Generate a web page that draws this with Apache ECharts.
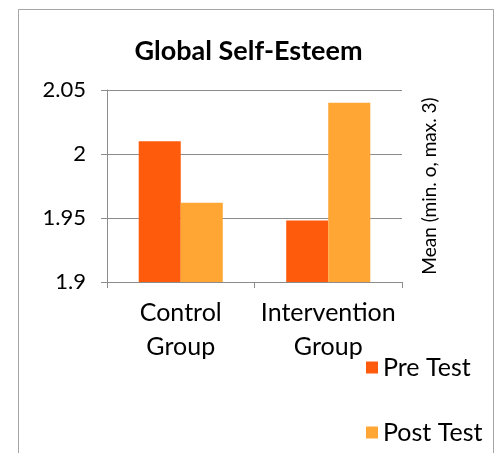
<!DOCTYPE html>
<html>
<head>
<meta charset="utf-8">
<script src="https://cdn.jsdelivr.net/npm/echarts@6/dist/echarts.min.js"></script>
<style>
  html, body { margin: 0; padding: 0; background: #fff; }
  #tuBiao { width: 497px; height: 453px; }
</style>
</head>
<body>
<div id="tuBiao"></div>
<script>
  // 数据
  const categories = ['Control\nGroup', 'Intervention\nGroup'];
  const preTest = [2.010, 1.948];
  const postTest = [1.962, 2.040];
  const yTicks = { min: 1.9, max: 2.05, step: 0.05 };

  const ziTi = 'Lato, "Open Sans", sans-serif';
  const huiSe = '#8c8c8c';

  const chart = echarts.init(document.getElementById('tuBiao'));

  const option = {
    animation: false,
    textStyle: { fontFamily: ziTi, color: '#000' },
    title: {
      text: 'Global Self-Esteem',
      left: 'center',
      top: 38,
      padding: 0,
      textStyle: { fontFamily: ziTi, fontSize: 27, fontWeight: 'bold', color: '#000' },
    },
    // 外框
    graphic: [
      {
        type: 'rect',
        shape: { x: 18.5, y: 9.5, width: 475, height: 460 },
        style: { fill: 'none', stroke: '#a6a6a6', lineWidth: 1 },
        silent: true,
      },
    ],
    legend: {
      orient: 'vertical',
      left: 366,
      top: 355,
      padding: 0,
      icon: 'rect',
      itemWidth: 12,
      itemHeight: 12,
      itemGap: 40,
      textStyle: { fontFamily: ziTi, fontSize: 25, lineHeight: 24, color: '#000' },
      data: ['Pre Test', 'Post Test'],
    },
    grid: { left: 107, right: 95, top: 90, bottom: 171, containLabel: false },
    xAxis: {
      type: 'category',
      data: categories,
      axisLine: { lineStyle: { color: huiSe } },
      axisTick: { show: true, length: 6, lineStyle: { color: huiSe } },
      axisLabel: {
        interval: 0,
        hideOverlap: false,
        fontFamily: ziTi,
        fontSize: 25,
        color: '#000',
        lineHeight: 34,
        margin: 14,
      },
    },
    yAxis: [
      {
        type: 'value',
        min: yTicks.min,
        max: yTicks.max,
        interval: yTicks.step,
        axisLine: { show: true, lineStyle: { color: huiSe } },
        axisTick: { show: true, length: 6, lineStyle: { color: huiSe } },
        splitLine: { lineStyle: { color: huiSe } },
        axisLabel: { fontFamily: ziTi, fontSize: 22, color: '#000', margin: 21 },
      },
      {
        type: 'value',
        position: 'right',
        min: yTicks.min,
        max: yTicks.max,
        interval: yTicks.step,
        name: 'Mean (min. o, max. 3)',
        nameLocation: 'middle',
        nameGap: 18,
        nameTextStyle: { fontFamily: ziTi, fontSize: 19, color: '#000' },
        axisLine: { show: false },
        axisTick: { show: false },
        axisLabel: { show: false },
        splitLine: { show: false },
      },
    ],
    series: [
      {
        name: 'Pre Test',
        type: 'bar',
        data: preTest,
        barGap: '0%',
        barCategoryGap: '43%',
        itemStyle: { color: '#ff5b0c' },
      },
      {
        name: 'Post Test',
        type: 'bar',
        data: postTest,
        itemStyle: { color: '#ffa634' },
      },
    ],
  };

  chart.setOption(option);
</script>
</body>
</html>
